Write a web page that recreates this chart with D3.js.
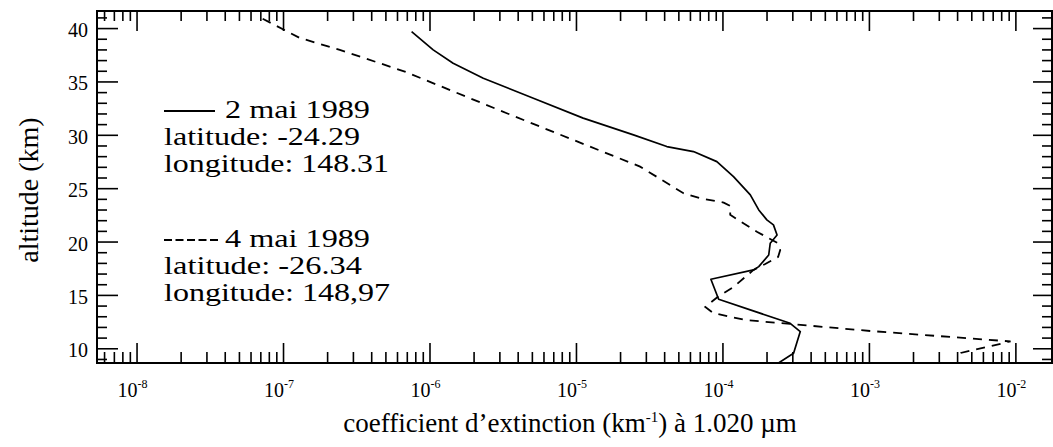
<!DOCTYPE html>
<html>
<head>
<meta charset="utf-8">
<script src="https://cdn.jsdelivr.net/npm/d3@7"></script>
<style>
  html, body { margin: 0; padding: 0; background: #fff; }
  svg { display: block; font-family: "Liberation Serif", "Times New Roman", serif; }
</style>
</head>
<body>
<svg id="chart" width="1053" height="447"></svg>
<script>
// Extinction coefficient profiles at 1.020 µm (km^-1) versus altitude (km)
const altitude2mai = [39.67, 37.96, 36.71, 35.3, 33.43, 31.56, 29.99, 28.9, 28.43, 27.49, 26.08, 24.37,
  22.96, 22.03, 21.56, 20.62, 19.84, 18.74, 17.65, 17.34, 16.47, 14.59, 12.34, 11.56, 9.53, 8.6];
const extinction2mai = [7.55e-7, 1.06e-6, 1.45e-6, 2.33e-6, 5.12e-6, 1.12e-5, 2.47e-5, 4.17e-5, 6.34e-5, 9.16e-5,
  1.19e-4, 1.55e-4, 1.77e-4, 2.01e-4, 2.23e-4, 2.36e-4, 2.12e-4, 2.07e-4, 1.77e-4, 1.63e-4,
  8.34e-5, 9.42e-5, 2.90e-4, 3.40e-4, 3.06e-4, 2.40e-4];

const altitude4mai = [40.87, 39.08, 37.96, 35.92, 32.02, 29.52, 27.02, 24.53, 24.06, 23.65, 23.34,
  22.5, 20.9, 19.87, 19.21, 18.56, 17.9, 17.34, 15.75, 14.81, 13.87, 13.31, 12.65, 12.28,
  11.62, 11.06, 10.64, 10.2, 9.56, 9.18];
const extinction4mai = [7.26e-8, 1.30e-7, 2.44e-7, 6.79e-7, 3.37e-6, 9.59e-6, 2.74e-5, 5.42e-5, 7.05e-5,
  1.02e-4, 1.13e-4, 1.13e-4, 1.73e-4, 2.37e-4, 2.48e-4, 2.40e-4, 1.96e-4, 1.63e-4, 1.19e-4,
  9.27e-5, 7.64e-5, 8.65e-5, 1.43e-4, 2.90e-4, 1.02e-3, 3.61e-3, 9.27e-3, 6.76e-3, 4.23e-3, 3.91e-3];

const xTickExponents = [-8, -7, -6, -5, -4, -3, -2];
const yTickValues = [10, 15, 20, 25, 30, 35, 40];

const legend2mai = ["2 mai 1989", "latitude: -24.29", "longitude: 148.31"];
const legend4mai = ["4 mai 1989", "latitude: -26.34", "longitude: 148,97"];

const xTitle = "coefficient d\u2019extinction (km";
const xTitleSup = "-1";
const xTitleEnd = ") \u00e0 1.020 \u00b5m";
const yTitle = "altitude  (km)";

const svg = d3.select("#chart");
const L = 97, R = 1052, T = 11, B = 363;

const x = d3.scaleLog().domain([Math.pow(10, -8.27), Math.pow(10, -1.75)]).range([L, R]);
const y = d3.scaleLinear().domain([8.62, 41.6]).range([B, T]);

// minor ticks: 2..9 × each decade inside the domain
const [x0, x1] = x.domain();
const xMinor = [];
for (let e = -9; e <= -2; e++) {
  for (let k = 2; k <= 9; k++) {
    const v = k * Math.pow(10, e);
    if (v > x0 && v < x1) xMinor.push(v);
  }
}
const xMajor = xTickExponents.map(e => Math.pow(10, e));
const yMinor = d3.range(9, 42).filter(v => v % 5 !== 0);

function styleAxis(g) {
  g.select(".domain").remove();
  g.selectAll(".tick line").attr("stroke", "#000").attr("stroke-width", 1.6);
  g.selectAll(".tick text").remove();
}

// bottom / top (inward ticks)
svg.append("g").attr("transform", `translate(0,${B})`)
  .call(d3.axisBottom(x).tickValues(xMinor).tickSize(-11)).call(styleAxis);
svg.append("g").attr("transform", `translate(0,${B})`)
  .call(d3.axisBottom(x).tickValues(xMajor).tickSize(-20)).call(styleAxis);
svg.append("g").attr("transform", `translate(0,${T})`)
  .call(d3.axisTop(x).tickValues(xMinor).tickSize(-10)).call(styleAxis);
svg.append("g").attr("transform", `translate(0,${T})`)
  .call(d3.axisTop(x).tickValues(xMajor).tickSize(-20)).call(styleAxis);

// left / right (inward ticks)
svg.append("g").attr("transform", `translate(${L},0)`)
  .call(d3.axisLeft(y).tickValues(yMinor).tickSize(-10)).call(styleAxis);
svg.append("g").attr("transform", `translate(${L},0)`)
  .call(d3.axisLeft(y).tickValues(yTickValues).tickSize(-21)).call(styleAxis);
svg.append("g").attr("transform", `translate(${R},0)`)
  .call(d3.axisRight(y).tickValues(yMinor).tickSize(-10)).call(styleAxis);
svg.append("g").attr("transform", `translate(${R},0)`)
  .call(d3.axisRight(y).tickValues(yTickValues).tickSize(-19)).call(styleAxis);

// frame
svg.append("rect").attr("x", L).attr("y", T).attr("width", R - L).attr("height", B - T)
  .attr("fill", "none").attr("stroke", "#000").attr("stroke-width", 2);

// x tick labels with superscript exponents
const xl = svg.append("g").attr("fill", "#000");
xTickExponents.forEach(e => {
  const t = xl.append("text").attr("x", x(Math.pow(10, e)) - 19).attr("y", B + 34)
    .attr("font-size", 20);
  t.append("tspan").text("10");
  t.append("tspan").attr("dy", -9).attr("font-size", 12).text(String(e));
});

// y tick labels
svg.append("g").selectAll("text").data(yTickValues).join("text")
  .attr("x", L - 9).attr("y", d => y(d) + 9)
  .attr("text-anchor", "end").attr("font-size", 20).text(d => d);

// axis titles
const xt = svg.append("text").attr("x", 570).attr("y", 432)
  .attr("text-anchor", "middle").attr("font-size", 27);
xt.append("tspan").text(xTitle);
xt.append("tspan").attr("dy", -10).attr("font-size", 15).text(xTitleSup);
xt.append("tspan").attr("dy", 10).text(xTitleEnd);

svg.append("text").attr("transform", `translate(38,190) rotate(-90)`)
  .attr("text-anchor", "middle").attr("font-size", 28).text(yTitle);

// profiles
svg.append("clipPath").attr("id", "plot-area")
  .append("rect").attr("x", L).attr("y", T).attr("width", R - L).attr("height", B - T);

const line = d3.line().x(d => x(d[0])).y(d => y(d[1]));
const solid = extinction2mai.map((v, i) => [v, altitude2mai[i]]);
const dashed = extinction4mai.map((v, i) => [v, altitude4mai[i]]);

svg.append("path").datum(solid).attr("clip-path", "url(#plot-area)")
  .attr("d", line).attr("fill", "none").attr("stroke", "#000").attr("stroke-width", 1.7)
  .attr("stroke-linejoin", "round");
svg.append("path").datum(dashed).attr("clip-path", "url(#plot-area)")
  .attr("d", line).attr("fill", "none").attr("stroke", "#000").attr("stroke-width", 1.8)
  .attr("stroke-dasharray", "9,7");

// legend: text stretched to the printed widths
const lg = svg.append("g").attr("font-size", 26).attr("fill", "#000");
function legendText(xPos, yPos, str, width) {
  lg.append("text").attr("x", xPos).attr("y", yPos)
    .attr("textLength", width).attr("lengthAdjust", "spacingAndGlyphs").text(str);
}
lg.append("line").attr("x1", 164).attr("x2", 215).attr("y1", 111).attr("y2", 111)
  .attr("stroke", "#000").attr("stroke-width", 1.8);
legendText(225, 118, legend2mai[0], 145);
legendText(164, 145, legend2mai[1], 196);
legendText(164, 172, legend2mai[2], 225);

lg.append("line").attr("x1", 164).attr("x2", 218).attr("y1", 240).attr("y2", 240)
  .attr("stroke", "#000").attr("stroke-width", 1.8).attr("stroke-dasharray", "8,3.5");
legendText(225, 247, legend4mai[0], 145);
legendText(164, 274, legend4mai[1], 198);
legendText(164, 301, legend4mai[2], 226);
</script>
</body>
</html>
